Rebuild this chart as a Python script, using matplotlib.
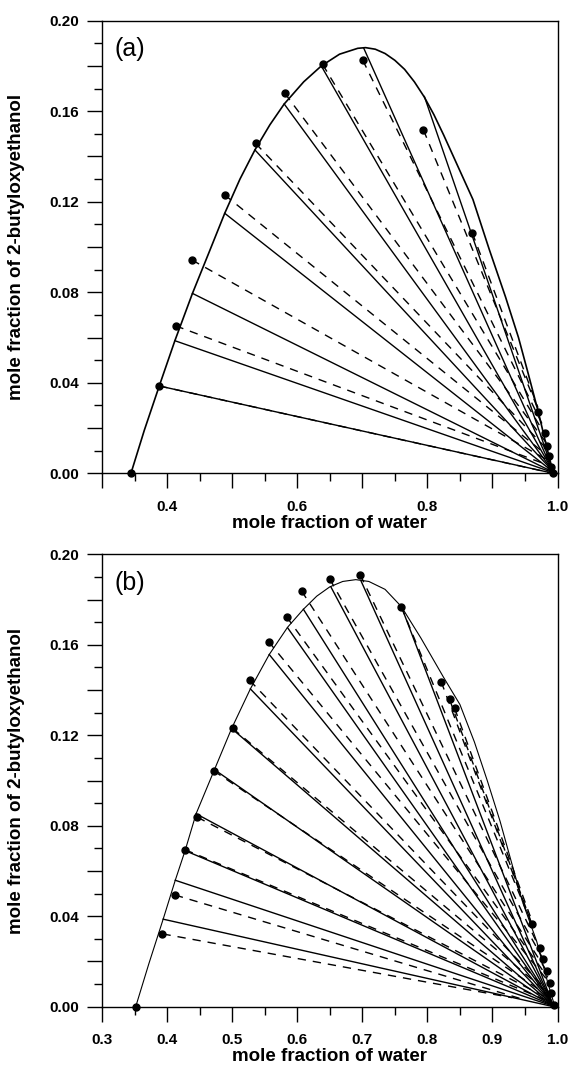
import matplotlib
matplotlib.use("Agg")
import matplotlib.pyplot as plt
from matplotlib.ticker import MultipleLocator

plt.rcParams['font.family'] = ['Liberation Sans', 'DejaVu Sans']

# ---------------- panel (a) ----------------
# calculated binodal
a_curve_x = [0.3445, 0.365, 0.388, 0.412, 0.439, 0.465, 0.4886, 0.512, 0.535, 0.558,
             0.58, 0.61, 0.637, 0.665, 0.693, 0.705, 0.72, 0.735, 0.75, 0.765,
             0.78, 0.795, 0.81, 0.825, 0.84, 0.855, 0.87, 0.895, 0.92, 0.94,
             0.955, 0.971, 0.983, 0.9935]
a_curve_y = [0.0, 0.019, 0.0386, 0.0586, 0.0795, 0.098, 0.1149, 0.130, 0.1429, 0.154,
             0.1632, 0.1730, 0.1800, 0.1852, 0.1878, 0.1881, 0.1874, 0.1855, 0.1825, 0.1785,
             0.1730, 0.1664, 0.1585, 0.1495, 0.1400, 0.1305, 0.121, 0.099, 0.078, 0.060,
             0.044, 0.0265, 0.012, 0.0]

# calculated tie lines (left end on binodal -> water rich end)
a_calc_x1 = [0.388, 0.412, 0.439, 0.4886, 0.535, 0.58, 0.637, 0.702, 0.7954]
a_calc_y1 = [0.0386, 0.0586, 0.0795, 0.1149, 0.1429, 0.1632, 0.1800, 0.1880, 0.1665]
a_calc_x2 = [0.9935, 0.9935, 0.9932, 0.993, 0.993, 0.9928, 0.9925, 0.992, 0.992]
a_calc_y2 = [0.0, 0.0003, 0.0005, 0.0007, 0.0009, 0.001, 0.0012, 0.0015, 0.0018]

# experimental tie lines
a_exp_x1 = [0.388, 0.413, 0.438, 0.4886, 0.536, 0.581, 0.639, 0.7006, 0.794, 0.869]
a_exp_y1 = [0.0386, 0.0652, 0.0943, 0.123, 0.1458, 0.1679, 0.1807, 0.1826, 0.1517, 0.1063]
a_exp_x2 = [0.993, 0.991, 0.990, 0.988, 0.986, 0.984, 0.981, 0.976, 0.972, 0.970]
a_exp_y2 = [0.000, 0.003, 0.005, 0.007, 0.010, 0.013, 0.017, 0.022, 0.027, 0.029]

# experimental points
a_pts_x = [0.3445, 0.388, 0.413, 0.438, 0.4886, 0.536, 0.581, 0.639, 0.7006, 0.794,
           0.869, 0.970, 0.980, 0.984, 0.987, 0.990, 0.993]
a_pts_y = [0.0, 0.0386, 0.0652, 0.0943, 0.123, 0.1458, 0.1679, 0.1807, 0.1826, 0.1517,
           0.1063, 0.027, 0.018, 0.012, 0.0075, 0.003, 0.0]

# ---------------- panel (b) ----------------
b_curve_x = [0.3518, 0.372, 0.394, 0.4126, 0.4277, 0.4446, 0.4728, 0.4992, 0.528, 0.557,
             0.5853, 0.6095, 0.63, 0.65, 0.67, 0.69, 0.71, 0.735, 0.76, 0.79,
             0.8245, 0.85, 0.8723, 0.892, 0.9117, 0.9455, 0.968, 0.985, 0.996]
b_curve_y = [0.0, 0.019, 0.0387, 0.0559, 0.069, 0.0853, 0.1048, 0.123, 0.1405, 0.1557,
             0.1678, 0.1757, 0.1815, 0.1856, 0.1880, 0.1888, 0.1880, 0.1845, 0.1769, 0.1630,
             0.1458, 0.1336, 0.117, 0.100, 0.082, 0.047, 0.0289, 0.0106, 0.0]

b_calc_x1 = [0.394, 0.4126, 0.4277, 0.4446, 0.4728, 0.4992, 0.528, 0.557, 0.5853, 0.6095,
             0.6517, 0.6979, 0.76]
b_calc_y1 = [0.0387, 0.0559, 0.069, 0.0853, 0.1048, 0.123, 0.1405, 0.1557, 0.1675, 0.1757,
             0.1856, 0.1883, 0.1769]
b_calc_x2 = [0.994, 0.994, 0.994, 0.9938, 0.9936, 0.9934, 0.9932, 0.993, 0.993, 0.9928,
             0.9925, 0.992, 0.992]
b_calc_y2 = [0.0, 0.0002, 0.0004, 0.0005, 0.0006, 0.0007, 0.0008, 0.0009, 0.001, 0.0011,
             0.0012, 0.0014, 0.0016]

b_exp_x1 = [0.3929, 0.412, 0.4277, 0.4463, 0.4716, 0.5009, 0.5268, 0.556, 0.5836, 0.6067,
            0.65, 0.6967, 0.7598, 0.8212, 0.834, 0.8418]
b_exp_y1 = [0.0322, 0.0494, 0.0694, 0.0838, 0.1043, 0.123, 0.1443, 0.1614, 0.1724, 0.1838,
            0.1891, 0.191, 0.1769, 0.1437, 0.1359, 0.132]
b_exp_x2 = [0.93, 0.95, 0.99, 0.99, 0.99, 0.99, 0.988, 0.9877, 0.985, 0.9832,
            0.9775, 0.9724, 0.9606, 0.9606, 0.960, 0.958]
b_exp_y2 = [0.004, 0.003, 0.002, 0.003, 0.004, 0.005, 0.006, 0.0106, 0.013, 0.0159,
            0.0213, 0.0258, 0.0364, 0.0364, 0.037, 0.040]

b_pts_x = [0.3518, 0.3929, 0.412, 0.4277, 0.4463, 0.4716, 0.5009, 0.5268, 0.556, 0.5836,
           0.6067, 0.65, 0.6967, 0.7598, 0.8212, 0.834, 0.8418, 0.9606, 0.9724, 0.9775,
           0.9832, 0.9877, 0.99, 0.995]
b_pts_y = [0.0, 0.0322, 0.0494, 0.0694, 0.0838, 0.1043, 0.123, 0.1443, 0.1614, 0.1724,
           0.1838, 0.1891, 0.191, 0.1769, 0.1437, 0.1359, 0.132, 0.0364, 0.0258, 0.0213,
           0.0159, 0.0106, 0.006, 0.0008]

x_ticks = [0.3, 0.4, 0.5, 0.6, 0.7, 0.8, 0.9, 1.0]
a_xlabels = ['', '0.4', '', '0.6', '', '0.8', '', '1.0']
b_xlabels = ['0.3', '0.4', '0.5', '0.6', '0.7', '0.8', '0.9', '1.0']
y_ticks = [0.0, 0.02, 0.04, 0.06, 0.08, 0.10, 0.12, 0.14, 0.16, 0.18, 0.20]
y_labels = ['0.00', '', '0.04', '', '0.08', '', '0.12', '', '0.16', '', '0.20']


def draw_panel(ax, cx, cy, cw, kx1, ky1, kx2, ky2, ex1, ey1, ex2, ey2, px, py, xlabels, tag):
    ax.plot(cx, cy, color='black', lw=cw)
    for i in range(len(kx1)):
        ax.plot([kx1[i], kx2[i]], [ky1[i], ky2[i]], color='black', lw=1.0)
    for i in range(len(ex1)):
        ax.plot([ex1[i], ex2[i]], [ey1[i], ey2[i]], color='black', lw=1.0,
                linestyle=(0, (6, 5)))
    ax.plot(px, py, 'o', color='black', markersize=5, clip_on=False, zorder=5)

    ax.set_xlim(0.3, 1.0)
    ax.set_ylim(0.0, 0.2)
    ax.set_xticks(x_ticks, xlabels)
    ax.set_yticks(y_ticks, y_labels)
    ax.xaxis.set_minor_locator(MultipleLocator(0.05))
    ax.yaxis.set_minor_locator(MultipleLocator(0.01))
    ax.tick_params(which='major', direction='out', length=11, width=1.0,
                   labelsize=11)
    ax.tick_params(which='minor', direction='out', length=5.5, width=1.0)
    ax.tick_params(axis='x', which='major', pad=8)
    ax.tick_params(axis='y', which='major', pad=5.5)
    for lab in ax.get_xticklabels() + ax.get_yticklabels():
        lab.set_fontweight('bold')
    for s in ax.spines.values():
        s.set_linewidth(1.0)

    ax.set_xlabel('mole fraction of water', fontsize=13.5, fontweight='bold')
    ax.set_ylabel('mole fraction of 2-butyloxyethanol', fontsize=13.5, fontweight='bold')
    ax.xaxis.set_label_coords(0.5, -0.092)
    ax.yaxis.set_label_coords(-0.169, 0.5)
    ax.text(0.028, 0.937, tag, transform=ax.transAxes, fontsize=18,
            ha='left', va='center')


fig = plt.figure(figsize=(5.73, 10.67), dpi=100)
ax1 = fig.add_axes([0.178, 0.5564, 0.795, 0.4242])
ax2 = fig.add_axes([0.178, 0.0565, 0.795, 0.4240])

draw_panel(ax1, a_curve_x, a_curve_y, 1.2, a_calc_x1, a_calc_y1, a_calc_x2, a_calc_y2,
           a_exp_x1, a_exp_y1, a_exp_x2, a_exp_y2, a_pts_x, a_pts_y, a_xlabels, '(a)')
draw_panel(ax2, b_curve_x, b_curve_y, 0.8, b_calc_x1, b_calc_y1, b_calc_x2, b_calc_y2,
           b_exp_x1, b_exp_y1, b_exp_x2, b_exp_y2, b_pts_x, b_pts_y, b_xlabels, '(b)')

fig.savefig('out.png', dpi=100)
